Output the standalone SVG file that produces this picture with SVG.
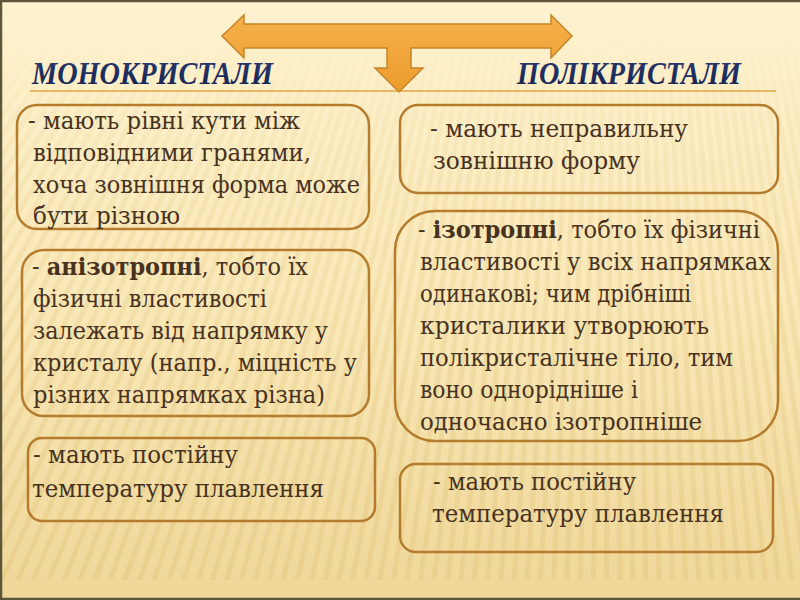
<svg xmlns="http://www.w3.org/2000/svg" width="800" height="600" viewBox="0 0 800 600">
  <defs>
    <linearGradient id="bg" x1="0" y1="0" x2="0" y2="1">
      <stop offset="0" stop-color="#fef2cf"/>
      <stop offset="0.5" stop-color="#f9e8b8"/>
      <stop offset="1" stop-color="#efd799"/>
    </linearGradient>
    <linearGradient id="fadeG" x1="0" y1="0" x2="0" y2="600" gradientUnits="userSpaceOnUse">
      <stop offset="0" stop-color="#000"/>
      <stop offset="0.06" stop-color="#000"/>
      <stop offset="0.4" stop-color="#fff" stop-opacity="0.6"/>
      <stop offset="1" stop-color="#fff"/>
    </linearGradient>
    <mask id="fade">
      <rect x="0" y="0" width="800" height="600" fill="url(#fadeG)"/>
    </mask>
    <linearGradient id="arrowG" x1="0" y1="0" x2="0" y2="1">
      <stop offset="0" stop-color="#f6b04a"/>
      <stop offset="1" stop-color="#ec9c2c"/>
    </linearGradient>
    <linearGradient id="titleG" x1="0" y1="0" x2="0" y2="1">
      <stop offset="0" stop-color="#2a3a72"/>
      <stop offset="1" stop-color="#15224d"/>
    </linearGradient>
    <style>
      .box { fill: none; stroke: #b47c2c; stroke-width: 2.5; }
      .t { font-family: "DejaVu Serif", "Liberation Serif", serif; font-size: 23.5px; fill: #47321f; }
      .b { font-weight: bold; }
      .title { font-family: "Liberation Serif", "DejaVu Serif", serif; font-size: 31px; font-weight: bold; font-style: italic; fill: url(#titleG); }
    </style>
  </defs>

  <!-- background -->
  <rect x="0" y="0" width="800" height="600" fill="url(#bg)"/>
  <g mask="url(#fade)" opacity="0.3">
    <circle cx="620" cy="-800" r="1150" fill="none" stroke="#dcbd6e" stroke-width="900" stroke-dasharray="5 6"/>
  </g>
  <path d="M0,1 H800 M1,0 V600 M0,599 H800" stroke="#5e5639" stroke-width="2.5" fill="none"/>

  <!-- title rule -->
  <line x1="30" y1="91" x2="776" y2="91" stroke="#e3a545" stroke-width="1.5"/>

  <!-- titles -->
  <g id="title-mono">
    <text class="title" x="32" y="84" textLength="241" lengthAdjust="spacingAndGlyphs">МОНОКРИСТАЛИ</text>
  </g>
  <g id="title-poly">
    <text class="title" x="517" y="84" textLength="224" lengthAdjust="spacingAndGlyphs">ПОЛІКРИСТАЛИ</text>
  </g>

  <!-- connectors -->
  <g id="connectors">
    <path d="M222,36 L244,15 L244,24 L551,24 L551,15 L572,36 L551,58 L551,48 L411,48 L411,68 L423,68 L399,92 L375,68 L387,68 L387,48 L244,48 L244,58 Z" fill="url(#arrowG)" stroke="#c5842a" stroke-width="1.5" stroke-linejoin="miter"/>
  </g>

  <!-- left column -->
  <g id="mono-1">
    <rect class="box" x="17" y="105" width="352" height="124" rx="20"/>
    <text class="t" x="28" y="129" textLength="272" lengthAdjust="spacingAndGlyphs">- мають рівні кути між</text>
    <text class="t" x="33" y="161" textLength="278" lengthAdjust="spacingAndGlyphs">відповідними гранями,</text>
    <text class="t" x="33" y="193" textLength="327" lengthAdjust="spacingAndGlyphs">хоча зовнішня форма може</text>
    <text class="t" x="33" y="224" textLength="147" lengthAdjust="spacingAndGlyphs">бути різною</text>
  </g>
  <g id="mono-2">
    <rect class="box" x="22" y="250" width="347" height="166" rx="22"/>
    <text class="t" x="32" y="275" textLength="276" lengthAdjust="spacingAndGlyphs">- <tspan class="b">анізотропні</tspan>, тобто їх</text>
    <text class="t" x="33" y="307" textLength="234" lengthAdjust="spacingAndGlyphs">фізичні властивості</text>
    <text class="t" x="33" y="339" textLength="295" lengthAdjust="spacingAndGlyphs">залежать від напрямку у</text>
    <text class="t" x="33" y="371" textLength="324" lengthAdjust="spacingAndGlyphs">кристалу (напр., міцність у</text>
    <text class="t" x="33" y="403" textLength="292" lengthAdjust="spacingAndGlyphs">різних напрямках різна)</text>
  </g>
  <g id="mono-3">
    <rect class="box" x="28" y="438" width="347" height="83" rx="14"/>
    <text class="t" x="33" y="463" textLength="205" lengthAdjust="spacingAndGlyphs">- мають постійну</text>
    <text class="t" x="32" y="497" textLength="292" lengthAdjust="spacingAndGlyphs">температуру плавлення</text>
  </g>

  <!-- right column -->
  <g id="poly-1">
    <rect class="box" x="400" y="105" width="378" height="88" rx="18"/>
    <text class="t" x="430" y="137" textLength="258" lengthAdjust="spacingAndGlyphs">- мають неправильну</text>
    <text class="t" x="433" y="169" textLength="207" lengthAdjust="spacingAndGlyphs">зовнішню форму</text>
  </g>
  <g id="poly-2">
    <rect class="box" x="395" y="211" width="383" height="230" rx="40"/>
    <text class="t" x="418" y="238" textLength="342" lengthAdjust="spacingAndGlyphs">- <tspan class="b">ізотропні</tspan>, тобто їх фізичні</text>
    <text class="t" x="420" y="270" textLength="351" lengthAdjust="spacingAndGlyphs">властивості у всіх напрямках</text>
    <text class="t" x="420" y="302" textLength="271" lengthAdjust="spacingAndGlyphs">одинакові; чим дрібніші</text>
    <text class="t" x="420" y="334" textLength="289" lengthAdjust="spacingAndGlyphs">кристалики утворюють</text>
    <text class="t" x="420" y="366" textLength="313" lengthAdjust="spacingAndGlyphs">полікристалічне тіло, тим</text>
    <text class="t" x="420" y="398" textLength="218" lengthAdjust="spacingAndGlyphs">воно однорідніше і</text>
    <text class="t" x="420" y="430" textLength="282" lengthAdjust="spacingAndGlyphs">одночасно ізотропніше</text>
  </g>
  <g id="poly-3">
    <rect class="box" x="400" y="464" width="373" height="88" rx="16"/>
    <text class="t" x="433" y="490" textLength="203" lengthAdjust="spacingAndGlyphs">- мають постійну</text>
    <text class="t" x="432" y="522" textLength="292" lengthAdjust="spacingAndGlyphs">температуру плавлення</text>
  </g>
</svg>
